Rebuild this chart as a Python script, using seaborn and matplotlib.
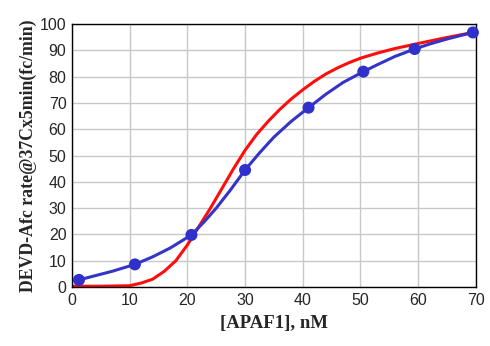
import matplotlib
matplotlib.use("Agg")
import matplotlib.pyplot as plt
import seaborn as sns
import pandas as pd

# measured points (blue markers)
apaf1_nm = [1.2, 10.9, 20.7, 30.0, 41.0, 50.5, 59.4, 69.5]
rate_meas = [2.7, 8.6, 19.8, 44.5, 68.2, 81.9, 90.5, 96.8]

# blue fitted curve
blue_x = [1.2, 4, 7, 10.9, 14, 17, 20.7, 23, 25, 27.5, 30.0, 32.5, 35, 38, 41.0,
          44, 47, 50.5, 53, 56, 59.4, 62, 65, 67.5, 69.5]
blue_y = [2.7, 4.3, 6.0, 8.6, 11.5, 14.8, 19.8, 25.0, 30.0, 37.0, 44.5, 51.0, 57.0, 63.0, 68.2,
          73.3, 77.8, 81.9, 84.6, 87.7, 90.5, 92.4, 94.3, 95.7, 96.8]

# red model curve
red_x = [0, 5, 10, 12, 14, 16, 18, 20, 22, 24, 26, 28, 30, 32, 34, 36, 38, 40, 42, 44,
         46, 48, 50, 53, 56, 60, 65, 70]
red_y = [0.3, 0.3, 0.5, 1.5, 3.0, 6.0, 10.0, 16.0, 23.0, 30.0, 37.5, 45.0, 52.0, 58.0, 63.0, 67.5,
         71.5, 75.0, 78.2, 81.0, 83.3, 85.3, 87.0, 89.0, 90.7, 92.6, 94.9, 97.0]

sns.set_style("white")
plt.rcParams['font.family'] = ['Liberation Sans', 'DejaVu Sans']

fig = plt.figure(figsize=(4.9, 3.46), dpi=100)
ax = fig.add_axes([0.147, 0.1705, 0.824, 0.76])

red_df = pd.DataFrame({"x": red_x, "y": red_y})
blue_df = pd.DataFrame({"x": blue_x, "y": blue_y})
pts_df = pd.DataFrame({"x": apaf1_nm, "y": rate_meas})

sns.lineplot(data=red_df, x="x", y="y", sort=False, color="#ff0d0d", linewidth=2.2, ax=ax)
sns.lineplot(data=blue_df, x="x", y="y", sort=False, color="#3434c8", linewidth=2.2, ax=ax)
sns.scatterplot(data=pts_df, x="x", y="y", color="#3030cc", s=75, edgecolor="none", ax=ax, zorder=5, clip_on=False)

ax.set_xlim(0, 70)
ax.set_ylim(0, 100)
ax.set_xticks(range(0, 71, 10))
ax.set_yticks(range(0, 101, 10))
ax.grid(True, color="#c8c8c8", linewidth=1)
for s in ax.spines.values():
    s.set_color("black")
    s.set_linewidth(1)
ax.tick_params(axis="both", length=0, labelsize=11.5, pad=4)

ax.set_xlabel("[APAF1], nM", family="Liberation Serif", fontweight="bold", fontsize=13.5, labelpad=5)
ax.set_ylabel("DEVD-Afc rate@37Cx5min(fc/min)", family="Liberation Serif", fontweight="bold", fontsize=12.8, labelpad=2)

fig.savefig("out.png", dpi=100)
